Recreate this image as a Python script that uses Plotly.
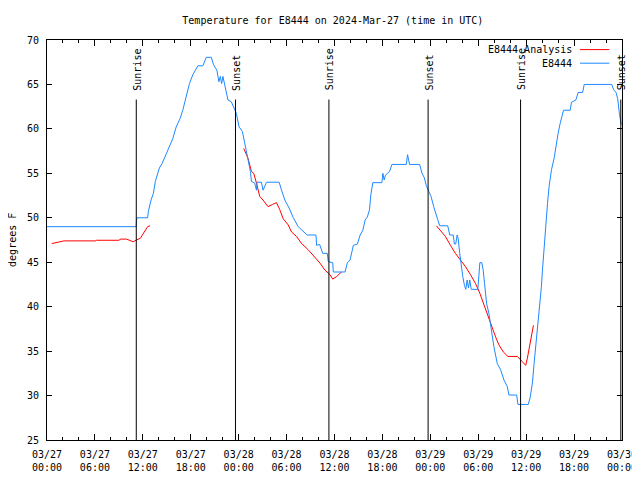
import pandas as pd
import plotly.graph_objects as go

BASE = pd.Timestamp("2024-03-27 00:00")

# E8444 observations: hours after 03/27 00:00 UTC, temperature (F)
obs_hours = [0.0, 11.15, 11.22, 11.27, 12.60, 12.69, 13.03, 13.32, 13.57, 14.07, 14.41, 14.79,
             15.33, 15.75, 16.17, 16.68, 17.00, 17.34, 17.84, 18.26, 18.89, 19.52, 19.94, 20.57,
             20.86, 21.27, 21.53, 21.70, 21.87, 22.03, 22.33, 22.66, 23.08, 23.41, 23.71, 24.04,
             24.47, 24.76, 25.17, 25.47, 25.60, 26.01, 26.23, 26.30, 26.85, 27.05, 27.48, 29.07,
             29.37, 29.78, 30.32, 30.82, 31.45, 32.58, 33.68, 33.76, 34.14, 34.52, 35.10, 35.22,
             35.78, 35.85, 37.32, 37.61, 37.95, 38.16, 38.36, 38.87, 39.21, 39.55, 39.83, 40.12,
             40.38, 40.55, 40.80, 41.93, 42.06, 42.22, 42.39, 42.64, 42.89, 43.19, 44.99, 45.15,
             45.40, 46.66, 46.96, 47.25, 47.50, 47.79, 48.09, 48.42, 48.76, 48.92, 49.17, 50.18,
             50.43, 50.86, 51.02, 51.18, 51.36, 51.48, 51.68, 51.86, 52.06, 52.27, 52.44, 52.61,
             52.78, 52.94, 53.12, 53.95, 54.07, 54.20, 54.45, 54.62, 54.79, 55.04, 55.33, 55.63,
             55.96, 56.38, 56.80, 57.22, 57.64, 57.84, 58.81, 58.97, 60.26, 60.48, 60.78, 60.99,
             61.20, 61.49, 61.74, 61.91, 62.04, 62.24, 62.45, 62.67, 62.87, 63.17, 63.50, 63.71,
             64.00, 64.25, 64.68, 65.51, 65.68, 66.22, 66.51, 67.07, 67.27, 70.71, 70.96, 71.25,
             71.46, 71.67, 71.88, 72.0]
obs_temp = [49.0, 49.0, 49.75, 50.0, 50.0, 50.7, 52.0, 52.75, 54.1, 55.6, 56.1, 56.9,
            58.0, 58.9, 60.2, 61.2, 62.1, 63.25, 65.1, 66.1, 67.1, 67.1, 68.05, 68.05,
            67.2, 66.6, 65.3, 65.9, 65.1, 65.9, 64.8, 63.25, 63.05, 62.3, 61.75, 60.25,
            59.7, 58.4, 56.5, 55.2, 54.1, 53.9, 53.1, 54.0, 54.0, 53.1, 54.0, 54.0,
            53.1, 52.0, 51.1, 50.05, 49.0, 48.06, 48.06, 46.9, 47.0, 46.0, 46.0, 45.06,
            44.95, 43.9, 43.9, 44.95, 45.25, 46.0, 46.9, 47.05, 48.06, 48.6, 49.75, 50.1,
            50.9, 52.6, 53.95, 53.95, 55.0, 54.25, 54.8, 55.0, 55.2, 56.0, 56.0, 57.1,
            56.0, 56.0, 55.0, 54.5, 53.6, 53.0, 52.4, 51.25, 50.1, 49.8, 49.1, 49.1,
            48.06, 48.06, 47.05, 47.05, 48.06, 47.7, 46.0, 44.5, 43.4, 42.4, 41.95, 43.0,
            42.1, 43.0, 41.95, 41.95, 43.0, 44.95, 44.95, 44.1, 42.6, 40.4, 39.25, 37.4,
            35.5, 33.6, 32.9, 31.75, 31.0, 30.06, 30.06, 29.0, 29.0, 29.7, 31.4, 33.6,
            35.5, 38.1, 40.4, 42.25, 44.1, 46.75, 49.75, 51.6, 53.5, 55.4, 56.7, 58.0,
            59.5, 60.6, 62.1, 62.1, 63.0, 63.25, 64.1, 64.1, 65.0, 65.0, 64.4, 64.1,
            63.4, 61.75, 60.6, 60.5]

# E8444 Analysis: three segments separated by gaps (None)
ana_hours = [0.59, 1.17, 2.14, 6.12, 6.20, 9.05, 9.15, 9.96, 10.40, 10.80, 11.20, 11.40, 11.70,
             11.90, 12.30, 12.60, 12.90, None,
             24.63, 25.17, 25.60, 25.89, 26.23, 26.64, 27.05, 27.68, 28.24, 28.74, 29.15, 29.57,
             30.20, 30.62, 31.25, 31.88, 32.71, 33.55, 34.18, 34.81, 35.44, 35.78, 36.28, 36.88, None,
             48.76, 49.26, 49.89, 50.52, 51.14, 51.77, 52.40, 53.03, 53.66, 54.20, 54.50, 54.91,
             55.33, 55.76, 56.17, 56.59, 57.14, 57.72, 58.90, 59.53, 59.94, 60.15, 60.36, 60.57, 60.91]
ana_temp = [47.1, 47.2, 47.4, 47.4, 47.47, 47.47, 47.6, 47.6, 47.4, 47.3, 47.5, 47.6, 47.7,
            48.0, 48.6, 49.0, 49.1, None,
            57.8, 56.7, 55.2, 55.0, 53.9, 52.4, 52.0, 51.25, 51.5, 51.7, 50.9, 49.9,
            49.2, 48.4, 47.9, 47.1, 46.4, 45.6, 44.9, 44.1, 43.6, 43.1, 43.4, 43.9, None,
            49.1, 48.6, 47.9, 46.9, 46.0, 45.25, 44.5, 43.6, 42.6, 41.5, 40.75, 39.6,
            38.5, 37.4, 36.6, 35.7, 34.9, 34.4, 34.4, 33.8, 33.4, 34.2, 35.3, 36.4, 37.9]

# Sun events (hours after 03/27 00:00 UTC)
sun_labels = ["Sunrise", "Sunset", "Sunrise", "Sunset", "Sunrise", "Sunset"]
sun_hours = [11.18, 23.60, 35.30, 47.72, 59.30, 71.85]

series_names = ["E8444 Analysis", "E8444"]
series_colors = ["#ff0000", "#1e88ff"]

title_text = "Temperature for E8444 on 2024-Mar-27 (time in UTC)"
y_title = "degrees F"


def to_time(hours):
    return [None if h is None else BASE + pd.Timedelta(hours=h) for h in hours]


FONT = "DejaVu Sans Mono"

fig = go.Figure()
fig.add_trace(go.Scatter(x=to_time(ana_hours), y=ana_temp, mode="lines", name=series_names[0],
                         line=dict(color=series_colors[0], width=1), connectgaps=False,
                         showlegend=False))
fig.add_trace(go.Scatter(x=to_time(obs_hours), y=obs_temp, mode="lines", name=series_names[1],
                         line=dict(color=series_colors[1], width=1), showlegend=False))

sun_times = to_time(sun_hours)
for lab, t in zip(sun_labels, sun_times):
    fig.add_shape(type="line", x0=t, x1=t, xref="x", y0=25, y1=63.3, yref="y",
                  line=dict(color="black", width=1))
    fig.add_annotation(x=t, y=64.1, xref="x", yref="y", text=lab, textangle=-90,
                       showarrow=False, xanchor="center", yanchor="bottom", xshift=1,
                       font=dict(family=FONT, size=10, color="black"))

# gnuplot-style key (text right-aligned, sample line to the right)
key_rows = [0.976, 0.942]
for name, col, yp in zip(series_names, series_colors, key_rows):
    fig.add_annotation(x=0.917, y=yp, xref="paper", yref="paper", text=name, showarrow=False,
                       xanchor="right", yanchor="middle", font=dict(family=FONT, size=10, color="black"))
    fig.add_shape(type="line", xref="paper", yref="paper", x0=0.927, x1=0.978, y0=yp, y1=yp,
                  line=dict(color=col, width=1))

# y-axis title as an annotation to the left of the tick labels
fig.add_annotation(x=-0.061, y=0.5, xref="paper", yref="paper", text=y_title, textangle=-90,
                   showarrow=False, xanchor="center", yanchor="middle",
                   font=dict(family=FONT, size=10, color="black"))

# page body adds an 8px offset; size the figure to fit the 640x480 window
fig.update_layout(
    width=632, height=472,
    margin=dict(l=39, r=18, t=32, b=40),
    paper_bgcolor="white", plot_bgcolor="white",
    font=dict(family=FONT, size=10, color="black"),
    title=dict(text=title_text, x=0.514, xanchor="center", y=1 - 12 / 472, yanchor="middle",
               font=dict(family=FONT, size=10, color="black")),
    showlegend=False,
)
fig.update_xaxes(
    type="date", range=[BASE, BASE + pd.Timedelta(hours=72)],
    tickmode="linear", tick0=BASE, dtick=6 * 3600 * 1000, tickformat="%m/%d<br>%H:%M",
    ticks="inside", ticklen=6, tickcolor="black", showgrid=False, zeroline=False,
    showline=True, linecolor="black", linewidth=1, mirror="allticks",
    minor=dict(dtick=2 * 3600 * 1000, tick0=BASE, ticks="inside", ticklen=3, tickcolor="black",
               showgrid=False),
    tickfont=dict(family=FONT, size=10), ticklabelstandoff=5, automargin=False,
)
fig.update_yaxes(
    range=[25, 70], tickmode="linear", tick0=25, dtick=5,
    ticks="inside", ticklen=5, tickcolor="black", showgrid=False, zeroline=False,
    showline=True, linecolor="black", linewidth=1, mirror="allticks",
    tickfont=dict(family=FONT, size=10), ticklabelstandoff=5, automargin=False,
)

fig.write_html("out.html")
